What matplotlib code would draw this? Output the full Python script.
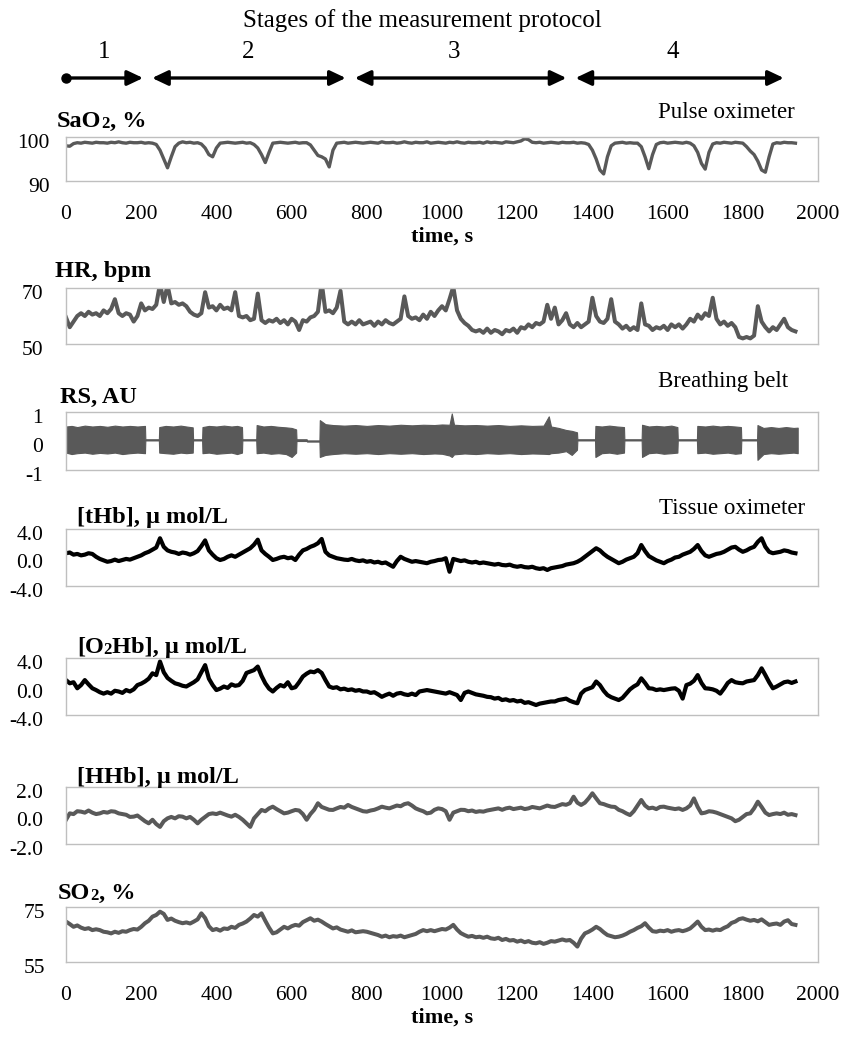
import numpy as np
import matplotlib
matplotlib.use("Agg")
import matplotlib.pyplot as plt
from matplotlib.text import Annotation
from matplotlib.transforms import ScaledTranslation

plt.rcParams["font.family"] = ["Liberation Serif", "DejaVu Serif"]
plt.rcParams["axes.unicode_minus"] = False

W, H = 844, 1043

# time grid of the traces, s
time_s = np.arange(0, 1950, 10)

sao2 = [
    98.0, 97.9, 98.5, 98.7, 98.6, 98.8, 98.7, 98.6, 98.8, 98.7, 98.7, 98.6, 98.8, 98.7, 98.9, 98.7, 98.6, 98.8, 98.7, 98.7,
    98.8, 98.6, 98.7, 98.6, 98.3, 97.0, 95.0, 93.0, 95.5, 97.8, 98.6, 98.9, 98.7, 98.8, 98.6, 98.7, 98.4, 97.5, 96.0, 95.5,
    97.5, 98.6, 98.7, 98.8, 98.7, 98.6, 98.7, 98.8, 98.6, 98.7, 98.3, 97.5, 96.0, 94.2, 96.5, 98.6, 98.7, 98.8, 98.7, 98.6,
    98.7, 98.8, 98.6, 98.7, 98.7, 98.2, 97.0, 95.8, 95.5, 95.0, 93.2, 97.0, 98.6, 98.7, 98.8, 98.6, 98.7, 98.8, 98.7, 98.6,
    98.7, 98.8, 98.7, 98.6, 98.9, 98.7, 98.7, 98.8, 98.6, 98.7, 98.9, 98.7, 98.6, 98.8, 98.7, 98.7, 98.9, 98.6, 98.7, 98.8,
    98.7, 98.6, 98.8, 98.7, 98.9, 98.7, 98.6, 98.8, 98.7, 98.7, 98.8, 98.6, 98.9, 98.7, 98.8, 98.7, 98.6, 98.9, 98.8, 98.7,
    98.9, 99.1, 99.6, 99.4, 98.8, 98.7, 98.8, 98.6, 98.7, 98.8, 98.7, 98.6, 98.8, 98.7, 98.7, 98.8, 98.6, 98.7, 98.6, 98.3,
    97.0, 95.0, 92.5, 91.6, 95.5, 98.0, 98.6, 98.7, 98.8, 98.6, 98.7, 98.6, 98.6, 97.8, 95.5, 92.8, 96.0, 98.3, 98.7, 98.8,
    98.6, 98.7, 98.8, 98.7, 98.6, 98.8, 98.6, 98.0, 96.5, 94.0, 92.7, 96.5, 98.4, 98.7, 98.6, 98.8, 98.7, 98.6, 98.8, 98.7,
    98.6, 97.8, 96.8, 96.0, 94.5, 92.5, 92.0, 95.5, 98.4, 98.7, 98.6, 98.8, 98.7, 98.7, 98.6,
]

hr = [
    59.5, 56, 58, 60, 61, 60, 61.5, 60.5, 61, 60, 62, 61, 62.5, 66, 61, 60, 61, 60.5, 58, 60,
    64.5, 62, 63, 62.5, 64, 71.5, 65, 71, 64.5, 65, 64, 64.5, 63.5, 61.5, 60.5, 60, 61, 68.5, 63, 63.5,
    62, 64, 62.5, 63, 62, 68.5, 60, 59.5, 60, 58.5, 59, 68, 58.5, 57.5, 58.5, 58, 59, 57.5, 58.5, 57,
    59, 58, 55, 58.5, 58, 59.5, 60, 61.5, 72, 61.5, 62, 61, 63, 69, 58, 57, 58, 57, 58.5, 57,
    57.5, 58, 56.5, 58, 57, 58.5, 57.5, 57, 58, 59, 67, 60, 59, 59.5, 58.5, 60.5, 59, 61.5, 60, 62,
    63.5, 62, 66, 70.5, 62, 59, 57.5, 56.5, 55, 54.5, 55, 54, 55.5, 54, 55, 54.5, 53.5, 55, 54.5, 55.5,
    54, 56, 55.5, 57, 56, 57.5, 57, 58, 64, 59, 63, 57, 58.5, 61, 57, 56, 57.5, 56, 57, 58,
    66.5, 60, 58, 57.5, 59, 66, 58, 57, 55.5, 56.5, 55, 56, 55, 64.5, 57, 56.5, 55, 56, 55.5, 56.5,
    55, 57, 56, 57, 55.5, 57, 59, 58, 60.5, 59, 61, 60, 66.5, 59, 57, 58, 56.5, 57.5, 56, 52.5,
    52, 52.5, 52, 53, 63.5, 58, 56, 54.5, 56, 55, 57, 59, 56, 55, 54.5,
]

# breathing belt: envelope of the respiration signal (time, upper, lower)
rs_t = [0, 15, 30, 50, 70, 90, 110, 130, 150, 170, 190, 210, 211, 247,
        248, 265, 285, 305, 320, 337, 338, 362,
        363, 380, 400, 420, 440, 455, 468, 469, 506,
        507, 525, 545, 565, 585, 600, 612, 613, 640, 641, 674,
        675, 690, 710, 740, 770, 800, 830, 860, 890, 920, 950, 980, 1000, 1020, 1026, 1032,
        1060, 1090, 1120, 1150, 1180, 1210, 1240, 1270, 1284, 1290, 1310, 1330, 1345, 1359, 1360, 1407,
        1408, 1425, 1445, 1465, 1484, 1485, 1531,
        1532, 1550, 1570, 1590, 1610, 1626, 1627, 1678,
        1679, 1700, 1720, 1740, 1760, 1780, 1795, 1796, 1838,
        1839, 1855, 1875, 1895, 1915, 1935, 1946]
rs_hi = [0.50, 0.52, 0.48, 0.53, 0.50, 0.52, 0.49, 0.53, 0.50, 0.52, 0.50, 0.52, 0.06, 0.06,
         0.48, 0.52, 0.50, 0.53, 0.50, 0.47, 0.06, 0.06,
         0.48, 0.52, 0.50, 0.53, 0.50, 0.52, 0.48, 0.06, 0.06,
         0.55, 0.50, 0.52, 0.49, 0.47, 0.45, 0.40, 0.06, 0.06, 0.02, 0.02,
         0.72, 0.58, 0.55, 0.53, 0.55, 0.52, 0.55, 0.53, 0.56, 0.54, 0.56, 0.55, 0.57, 0.56, 0.95, 0.56,
         0.54, 0.55, 0.53, 0.55, 0.52, 0.54, 0.52, 0.53, 0.85, 0.50, 0.45, 0.38, 0.35, 0.30, 0.06, 0.06,
         0.52, 0.50, 0.53, 0.50, 0.48, 0.06, 0.06,
         0.56, 0.50, 0.52, 0.50, 0.53, 0.48, 0.06, 0.06,
         0.52, 0.50, 0.53, 0.50, 0.52, 0.50, 0.48, 0.06, 0.06,
         0.55, 0.45, 0.48, 0.45, 0.48, 0.45, 0.46]
rs_lo = [-0.40, -0.45, -0.42, -0.40, -0.44, -0.41, -0.43, -0.40, -0.45, -0.42, -0.40, -0.42, 0.02, 0.02,
         -0.40, -0.42, -0.44, -0.40, -0.42, -0.40, 0.02, 0.02,
         -0.42, -0.40, -0.44, -0.42, -0.40, -0.45, -0.40, 0.02, 0.02,
         -0.42, -0.40, -0.44, -0.42, -0.45, -0.55, -0.40, 0.0, 0.0, -0.02, -0.02,
         -0.55, -0.48, -0.45, -0.42, -0.44, -0.42, -0.45, -0.42, -0.44, -0.42, -0.45, -0.43, -0.44, -0.50, -0.55, -0.46,
         -0.43, -0.45, -0.42, -0.44, -0.42, -0.45, -0.43, -0.44, -0.45, -0.42, -0.40, -0.35, -0.48, -0.30, 0.02, 0.02,
         -0.55, -0.42, -0.40, -0.44, -0.40, 0.02, 0.02,
         -0.55, -0.42, -0.40, -0.44, -0.42, -0.40, 0.02, 0.02,
         -0.42, -0.40, -0.44, -0.42, -0.40, -0.44, -0.42, 0.02, 0.02,
         -0.65, -0.45, -0.42, -0.44, -0.42, -0.40, -0.42]

thb = [
    0.6, 0.7, 0.4, 0.5, 0.3, 0.4, 0.6, 0.5, 0.1, -0.2, -0.4, -0.6, -0.5, -0.3, -0.5, -0.35, -0.2, -0.3, -0.1, 0.1,
    0.3, 0.6, 0.8, 1.1, 1.4, 2.7, 1.5, 1.0, 0.8, 0.7, 0.5, 0.7, 0.6, 0.4, 0.6, 0.9, 1.6, 2.4, 1.0, 0.4,
    -0.1, -0.35, -0.2, 0.1, 0.3, 0.1, 0.4, 0.7, 1.0, 1.3, 1.8, 2.5, 1.0, 0.5, 0.1, -0.35, -0.2, 0.0, 0.1, -0.1,
    0.0, -0.35, 0.4, 1.0, 1.2, 1.5, 1.7, 2.0, 2.6, 0.8, 0.3, 0.1, -0.1, -0.2, -0.3, -0.35, -0.2, -0.4, -0.5, -0.4,
    -0.6, -0.5, -0.7, -0.6, -0.8, -0.7, -1.0, -1.3, -0.5, 0.1, -0.2, -0.4, -0.6, -0.5, -0.6, -0.7, -0.8, -0.6, -0.5, -0.35,
    -0.3, -0.1, -2.0, -0.2, -0.35, -0.5, -0.4, -0.6, -0.7, -0.6, -0.8, -0.7, -0.8, -0.9, -1.0, -0.9, -1.05, -1.1, -1.0, -1.2,
    -1.3, -1.2, -1.35, -1.4, -1.3, -1.5, -1.6, -1.5, -1.75, -1.5, -1.4, -1.3, -1.2, -1.0, -0.9, -0.8, -0.6, -0.3, 0.1, 0.5,
    0.9, 1.3, 1.0, 0.5, 0.1, -0.2, -0.5, -0.8, -0.6, -0.3, -0.1, 0.1, 0.6, 1.75, 0.9, 0.2, -0.1, -0.4, -0.6, -0.8,
    -0.5, -0.3, 0.0, 0.1, 0.4, 0.6, 0.8, 1.2, 1.75, 0.9, 0.3, 0.1, 0.3, 0.5, 0.6, 0.8, 1.1, 1.4, 1.5, 1.1,
    0.8, 1.0, 1.3, 1.5, 2.2, 2.7, 1.5, 0.8, 0.6, 0.7, 0.8, 1.0, 0.9, 0.7, 0.6,
]

o2hb = [
    0.9, 0.45, 0.6, -0.25, 0.2, 0.9, 0.3, -0.25, -0.5, -0.8, -1.0, -0.8, -1.0, -0.6, -0.7, -0.9, -0.5, -0.7, -0.4, 0.2,
    0.4, 0.7, 1.1, 1.85, 1.6, 3.5, 2.0, 1.2, 0.8, 0.45, 0.3, 0.1, 0.0, 0.3, 0.6, 1.0, 2.0, 3.0, 1.1, 0.2,
    -0.5, -0.3, 0.0, -0.2, 0.3, 0.1, 0.2, 0.8, 1.9, 2.1, 2.3, 2.8, 1.5, 0.45, -0.3, -0.7, -0.2, 0.2, 0.0, 0.6,
    -0.25, -0.1, 0.6, 1.4, 1.8, 2.1, 2.0, 2.3, 1.9, 0.9, 0.0, -0.2, -0.1, -0.4, -0.3, -0.5, -0.4, -0.6, -0.5, -0.7,
    -0.7, -0.9, -0.8, -1.1, -1.45, -1.2, -1.0, -1.3, -1.0, -0.9, -1.1, -1.2, -1.0, -1.2, -0.7, -0.6, -0.5, -0.6, -0.7, -0.8,
    -0.9, -1.0, -0.8, -1.0, -1.2, -1.9, -0.9, -0.7, -0.9, -1.1, -1.2, -1.3, -1.45, -1.5, -1.7, -1.6, -1.9, -1.8, -2.0, -1.9,
    -2.1, -2.0, -2.3, -2.2, -2.4, -2.6, -2.4, -2.3, -2.2, -2.1, -2.1, -1.9, -1.8, -1.7, -2.0, -2.2, -2.35, -1.0, -0.5, -0.3,
    -0.1, 0.7, 0.2, -0.6, -1.2, -1.5, -1.7, -1.9, -1.6, -1.0, -0.4, 0.0, 0.3, 1.15, 0.5, -0.25, -0.3, -0.5, -0.4, -0.5,
    -0.4, -0.3, -0.25, -0.6, -1.7, 0.2, 0.4, 0.8, 1.6, 0.5, -0.25, -0.3, -0.4, -0.6, -1.0, -0.3, 0.5, 0.9, 0.6, 0.5,
    0.45, 0.7, 0.8, 0.9, 1.6, 2.55, 1.6, 0.6, -0.25, 0.0, 0.3, 0.6, 0.7, 0.5, 0.7,
]

hhb = [
    -0.3, 0.15, 0.1, 0.3, 0.27, 0.2, 0.35, 0.2, 0.1, 0.15, 0.25, 0.2, 0.3, 0.27, 0.15, 0.1, 0.05, -0.1, -0.08, 0.0,
    -0.2, -0.4, -0.55, -0.3, -0.6, -0.8, -0.4, -0.2, -0.1, -0.2, -0.05, -0.08, -0.2, -0.1, -0.3, -0.55, -0.3, -0.1, 0.1, 0.15,
    0.1, 0.2, 0.1, 0.0, -0.08, 0.05, -0.1, -0.3, -0.55, -0.8, -0.2, 0.1, 0.39, 0.3, 0.5, 0.62, 0.45, 0.3, 0.15, 0.2,
    0.3, 0.39, 0.35, 0.1, -0.3, 0.1, 0.4, 0.86, 0.6, 0.5, 0.4, 0.39, 0.5, 0.6, 0.55, 0.74, 0.6, 0.5, 0.4, 0.3,
    0.27, 0.35, 0.4, 0.5, 0.62, 0.55, 0.5, 0.6, 0.7, 0.65, 0.8, 0.86, 0.7, 0.5, 0.39, 0.3, 0.15, 0.2, 0.4, 0.5,
    0.45, 0.3, -0.3, 0.2, 0.3, 0.4, 0.39, 0.3, 0.35, 0.25, 0.3, 0.27, 0.35, 0.4, 0.45, 0.5, 0.4, 0.5, 0.55, 0.45,
    0.5, 0.55, 0.45, 0.5, 0.6, 0.55, 0.5, 0.6, 0.7, 0.62, 0.6, 0.7, 0.8, 0.75, 0.86, 1.32, 0.9, 0.74, 0.9, 1.2,
    1.56, 1.2, 0.86, 0.8, 0.7, 0.62, 0.6, 0.4, 0.3, 0.15, 0.03, 0.3, 0.7, 1.09, 0.7, 0.5, 0.55, 0.45, 0.6, 0.62,
    0.55, 0.5, 0.45, 0.5, 0.39, 0.5, 0.7, 1.2, 0.6, 0.15, 0.2, 0.3, 0.27, 0.2, 0.1, 0.0, -0.1, -0.2, -0.4, -0.3,
    -0.1, 0.1, 0.15, 0.5, 0.97, 0.6, 0.2, 0.03, 0.1, 0.15, 0.1, 0.2, 0.05, 0.1, 0.03,
]

so2 = [
    69.7, 68.8, 67.8, 68.3, 67.5, 67.0, 67.3, 66.6, 66.9, 66.6, 66.0, 65.8, 65.4, 66.0, 65.6, 66.2, 66.0, 66.6, 67.0, 66.8,
    67.8, 69.1, 70.0, 71.5, 72.1, 73.3, 72.5, 70.3, 70.8, 70.0, 69.5, 69.1, 69.4, 69.0, 69.7, 70.5, 72.7, 71.0, 68.0, 66.6,
    67.0, 66.4, 67.2, 67.0, 67.8, 67.4, 68.5, 69.0, 69.7, 70.8, 72.1, 71.5, 72.7, 70.0, 67.5, 65.4, 65.8, 66.8, 67.8, 67.2,
    68.0, 68.5, 68.2, 69.5, 70.2, 70.9, 70.0, 70.4, 69.7, 68.8, 68.0, 67.2, 67.6, 66.8, 66.4, 66.0, 66.5, 65.8, 66.0, 66.2,
    66.0, 65.6, 65.2, 64.8, 64.2, 64.6, 64.0, 64.4, 64.2, 64.6, 64.0, 64.4, 64.8, 65.2, 66.0, 66.6, 66.2, 66.6, 66.2, 66.6,
    67.0, 66.8, 67.5, 68.5, 66.8, 65.5, 64.8, 64.2, 64.5, 64.0, 64.2, 63.8, 64.2, 63.6, 63.4, 63.8, 63.0, 63.4, 62.8, 63.0,
    62.4, 62.8, 62.2, 62.6, 62.0, 61.8, 62.2, 61.6, 62.0, 62.6, 62.4, 62.8, 63.2, 62.8, 63.0, 62.0, 60.6, 63.5, 65.4, 66.0,
    66.8, 67.8, 67.0, 65.8, 64.8, 64.4, 64.0, 64.2, 64.6, 65.2, 66.0, 66.6, 67.4, 68.0, 69.1, 67.5, 66.2, 66.0, 66.4, 66.2,
    66.6, 66.0, 66.4, 66.6, 66.2, 66.6, 67.2, 68.4, 69.7, 67.8, 66.6, 66.8, 66.4, 66.8, 66.6, 67.4, 68.0, 69.2, 69.7, 70.6,
    70.9, 70.4, 70.0, 70.3, 69.8, 70.5, 69.5, 68.5, 68.8, 69.0, 68.5, 69.7, 70.2, 68.8, 68.5,
]

# protocol stages: start, end (s) and label
stage_start = [0, 229, 768, 1355]
stage_end = [205, 744, 1331, 1909]
stage_label_x = [101, 485, 1032, 1613]
stage_labels = ["1", "2", "3", "4"]

xticks = np.arange(0, 2001, 200)

GRAY = "#595959"
SPINE = "#bfbfbf"
TICK_FS = 15.5
LABEL_FS = 17.5


def fx(px):
    return px / W


def fy(py):
    return 1 - py / H


def make_axes(top, bottom):
    ax = fig.add_axes([fx(66), fy(bottom), fx(818) - fx(66), (bottom - top) / H])
    ax.set_xlim(0, 2000)
    for s in ax.spines.values():
        s.set_color(SPINE)
        s.set_linewidth(1.0)
    ax.tick_params(length=0, labelsize=TICK_FS)
    ax.set_xticks(xticks)
    return ax


def set_y(ax, lim, ticks, labels, pad):
    ax.set_ylim(*lim)
    ax.set_yticks(ticks)
    ax.set_yticklabels(labels)
    ax.tick_params(axis="y", pad=pad)
    # the tick labels sit a little below their gridline in the original
    shift = ScaledTranslation(0, -4 / 100, fig.dpi_scale_trans)
    for tick in ax.yaxis.get_major_ticks():
        tick.label1.set_transform(tick.label1.get_transform() + shift)


def panel_title(x_px, base_px, parts):
    # pieces are chained left to right; the small ones are the "2" of O2
    prev = None
    for txt, small in parts:
        size = 12 if small else LABEL_FS
        if prev is None:
            prev = fig.text(fx(x_px), fy(base_px), txt, fontsize=size, fontweight="bold",
                            ha="left", va="baseline")
        else:
            prev = fig.add_artist(Annotation(txt, xy=(1, 0), xycoords=prev, fontsize=size,
                                             fontweight="bold", ha="left", va="bottom"))


fig = plt.figure(figsize=(W / 100, H / 100), dpi=100)

# stage arrows on top
ax_top = fig.add_axes([fx(66), fy(95), fx(818) - fx(66), 65 / H])
ax_top.set_xlim(0, 2000)
ax_top.set_ylim(95, 30)
ax_top.axis("off")
fig.text(fx(422), fy(21), "Stages of the measurement protocol", fontsize=18, ha="center", va="center")
for i, (a, b) in enumerate(zip(stage_start, stage_end)):
    style = "-|>" if i == 0 else "<|-|>"
    ax_top.annotate("", xy=(b, 78), xytext=(a, 78),
                    arrowprops=dict(arrowstyle=style + ",head_length=0.95,head_width=0.45",
                                    mutation_scale=10, lw=2.4, color="black",
                                    shrinkA=0, shrinkB=0))
    ax_top.text(stage_label_x[i], 52, stage_labels[i], fontsize=18, ha="center", va="center")
ax_top.plot([stage_start[0]], [78], "o", color="black", markersize=6.5, clip_on=False)

# SaO2
ax1 = make_axes(137, 181)
ax1.plot(time_s, sao2, color=GRAY, lw=2.4)
set_y(ax1, (90, 100), [90, 100], ["90", "100"], 11.5)
ax1.tick_params(axis="x", pad=17)
ax1.set_xlabel("time, s", fontsize=16, fontweight="bold", labelpad=2)
panel_title(57, 127, [("SaO", False), ("2", True), (", %", False)])
fig.text(fx(795), fy(112), "Pulse oximeter", fontsize=16.5, ha="right", va="center")

# HR
ax2 = make_axes(288, 344)
ax2.plot(time_s, hr, color=GRAY, lw=2.9)
set_y(ax2, (50, 70), [50, 70], ["50", "70"], 16.5)
ax2.set_xticklabels([])
panel_title(55, 277, [("HR, bpm", False)])

# RS
ax3 = make_axes(412, 470)
ax3.fill_between(rs_t, rs_lo, rs_hi, color=GRAY, lw=0.8, edgecolor=GRAY)
set_y(ax3, (-1, 1), [-1, 0, 1], ["-1", "0", "1"], 16.5)
ax3.set_xticklabels([])
panel_title(60, 403, [("RS, AU", False)])
fig.text(fx(788), fy(381), "Breathing belt", fontsize=16.5, ha="right", va="center")

# tHb
ax4 = make_axes(529, 586)
ax4.plot(time_s, thb, color="black", lw=3.0)
set_y(ax4, (-4, 4), [-4, 0, 4], ["-4.0", "0.0", "4.0"], 16.5)
ax4.set_xticklabels([])
panel_title(77, 523, [("[tHb], μ mol/L", False)])
fig.text(fx(805), fy(508), "Tissue oximeter", fontsize=16.5, ha="right", va="center")

# O2Hb
ax5 = make_axes(658, 715)
ax5.plot(time_s, o2hb, color="black", lw=3.0)
set_y(ax5, (-4, 4), [-4, 0, 4], ["-4.0", "0.0", "4.0"], 16.5)
ax5.set_xticklabels([])
panel_title(77, 653, [("[O", False), ("2", True), ("Hb], μ mol/L", False)])

# HHb
ax6 = make_axes(787, 844)
ax6.plot(time_s, hhb, color=GRAY, lw=2.9)
set_y(ax6, (-2, 2), [-2, 0, 2], ["-2.0", "0.0", "2.0"], 16.5)
ax6.set_xticklabels([])
panel_title(77, 783, [("[HHb], μ mol/L", False)])

# SO2
ax7 = make_axes(907, 962)
ax7.plot(time_s, so2, color=GRAY, lw=2.9)
set_y(ax7, (55, 75), [55, 75], ["55", "75"], 15)
ax7.tick_params(axis="x", pad=17)
ax7.set_xlabel("time, s", fontsize=16, fontweight="bold", labelpad=2)
panel_title(58, 899, [("SO", False), ("2", True), (", %", False)])

fig.savefig("out.png", dpi=100)
